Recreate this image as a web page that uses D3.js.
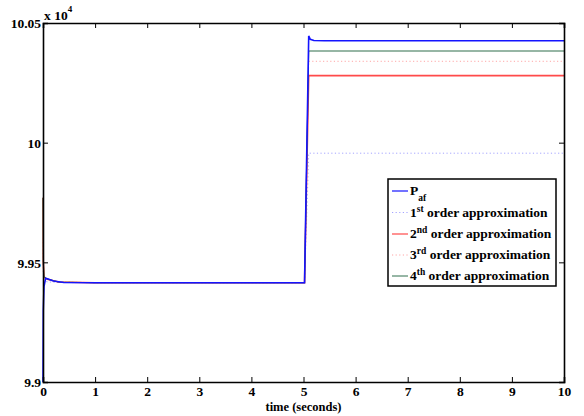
<!DOCTYPE html>
<html><head><meta charset="utf-8">
<script src="https://cdn.jsdelivr.net/npm/d3@7"></script>
<style>body{margin:0;background:#fff}svg{display:block}svg text{font-family:"Times New Roman","Liberation Serif","DejaVu Serif",serif !important;font-weight:bold}</style>
</head><body><svg id="c" width="584" height="416"></svg>
<script>
// ----- data (values in units of 10^4) -----
const xTicks = [0,1,2,3,4,5,6,7,8,9,10];
const yTicks = [9.9, 9.95, 10, 10.05];
const yTickLabels = ["9.9","9.95","10","10.05"];

const pafT = [0, 0.005, 0.02, 0.05, 0.1, 0.2, 0.4, 1, 5.0, 5.02, 5.1, 5.13, 5.2, 5.4, 10];
const pafV = [9.9, 9.93, 9.94, 9.9433, 9.943, 9.9422, 9.9416, 9.9415, 9.9415, 9.9415, 10.0446, 10.0432, 10.0427, 10.0426, 10.0426];

const o1T = [0, 0.02, 0.05, 0.1, 0.3, 1, 5.0, 5.02, 5.1, 5.2, 10];
const o1V = [9.9415, 9.9418, 9.942, 9.9418, 9.9416, 9.9415, 9.9415, 9.9415, 9.9956, 9.9956, 9.9956];

const o2T = [0, 0.005, 0.02, 0.05, 0.1, 0.3, 1, 5.0, 5.02, 5.1, 5.2, 10];
const o2V = [9.977, 9.95, 9.944, 9.9433, 9.9428, 9.9418, 9.9415, 9.9415, 9.9415, 10.028, 10.028, 10.028];

const o3T = [0, 0.005, 0.02, 0.05, 0.1, 0.3, 1, 5.0, 5.02, 5.1, 5.2, 10];
const o3V = [9.96, 9.946, 9.9435, 9.9433, 9.9428, 9.9418, 9.9415, 9.9415, 9.9415, 10.034, 10.034, 10.034];

const o4T = [0, 0.005, 0.02, 0.05, 0.1, 0.3, 1, 5.0, 5.02, 5.1, 5.2, 10];
const o4V = [9.977, 9.95, 9.944, 9.9435, 9.9429, 9.9418, 9.9415, 9.9415, 9.9415, 10.0383, 10.0383, 10.0383];

// ----- layout -----
const svg = d3.select("#c");
const L = 43, R = 564, T = 23, B = 382;
const x = d3.scaleLinear().domain([0,10]).range([L,R]);
const y = d3.scaleLinear().domain([9.9,10.05]).range([B,T]);

const series = [
  {t:o1T, v:o1V, color:"#a4a4ff", w:1, dash:"1.2,2.4"},
  {t:o3T, v:o3V, color:"#ffa6a6", w:1, dash:"1.2,2.4"},
  {t:o2T, v:o2V, color:"#ff4a4a", w:1.6, dash:null},
  {t:o4T, v:o4V, color:"#2f6e4c", w:1.1, dash:null},
  {t:pafT, v:pafV, color:"#1414ff", w:1.6, dash:null}
];
const line = d3.line().x(d=>x(d[0])).y(d=>y(d[1]));
svg.append("g").selectAll("path").data(series).join("path")
  .attr("d", s => line(s.t.map((t,i)=>[t, s.v[i]])))
  .attr("fill","none").attr("stroke",s=>s.color).attr("stroke-width",s=>s.w)
  .attr("stroke-dasharray",s=>s.dash);

// axes (ticks inward, mirrored)
const fs = 13.5;
const gBot = svg.append("g").attr("transform",`translate(0,${B})`)
  .call(d3.axisBottom(x).tickValues(xTicks).tickSize(-5).tickPadding(6).tickFormat(d3.format("d")));
const gTop = svg.append("g").attr("transform",`translate(0,${T})`)
  .call(d3.axisTop(x).tickValues(xTicks).tickSize(-5).tickFormat(""));
const gLeft = svg.append("g").attr("transform",`translate(${L},0)`)
  .call(d3.axisLeft(y).tickValues(yTicks).tickSize(-5).tickPadding(2).tickFormat((d,i)=>yTickLabels[i]));
const gRight = svg.append("g").attr("transform",`translate(${R},0)`)
  .call(d3.axisRight(y).tickValues(yTicks).tickSize(-5).tickFormat(""));
[gBot,gTop,gLeft,gRight].forEach(g=>{
  g.attr("font-family",null);
  g.selectAll(".domain").attr("stroke","#000").attr("stroke-width",1.6);
  g.selectAll(".tick line").attr("stroke","#000").attr("stroke-width",1);
  g.selectAll("text").attr("fill","#000").style("font-size",fs+"px");
});
gBot.selectAll(".tick text").attr("dy","0.6em");
gLeft.selectAll(".tick text").attr("dy","0.35em");

// exponent label
const ex = svg.append("text").attr("x",44).attr("y",20).style("font-size",fs+"px");
ex.append("tspan").text("x 10");
ex.append("tspan").attr("dy",-8).style("font-size","9px").text("4");

// x label
svg.append("text").attr("x",(L+R)/2).attr("y",411).attr("text-anchor","middle")
  .style("font-size","12.5px").text("time (seconds)");

// legend
const lg = svg.append("g");
lg.append("rect").attr("x",388).attr("y",179).attr("width",168).attr("height",107)
  .attr("fill","#fff").attr("stroke","#000").attr("stroke-width",1.5);
const legItems = [
  {s:series[4], main:"P", sub:"af"},
  {s:series[0], main:"1", sup:"st", rest:" order approximation"},
  {s:series[2], main:"2", sup:"nd", rest:" order approximation"},
  {s:series[1], main:"3", sup:"rd", rest:" order approximation"},
  {s:series[3], main:"4", sup:"th", rest:" order approximation"}
];
const rowY = [191, 212.5, 234, 255, 276];
legItems.forEach((it,i)=>{
  const yy = rowY[i];
  lg.append("line").attr("x1",392).attr("x2",408).attr("y1",yy).attr("y2",yy)
    .attr("stroke",it.s.color).attr("stroke-width",it.s.w>1.3?1.2:1).attr("stroke-dasharray",it.s.dash);
  const tx = lg.append("text").attr("x",410).attr("y",yy+4).style("font-size",fs+"px");
  tx.append("tspan").text(it.main);
  if(it.sub){ tx.append("tspan").attr("dy",6).style("font-size","9.5px").text(it.sub); }
  if(it.sup){
    tx.append("tspan").attr("dy",-5).style("font-size","9.5px").text(it.sup);
    tx.append("tspan").attr("dy",5).text(it.rest);
  }
});
</script></body></html>
